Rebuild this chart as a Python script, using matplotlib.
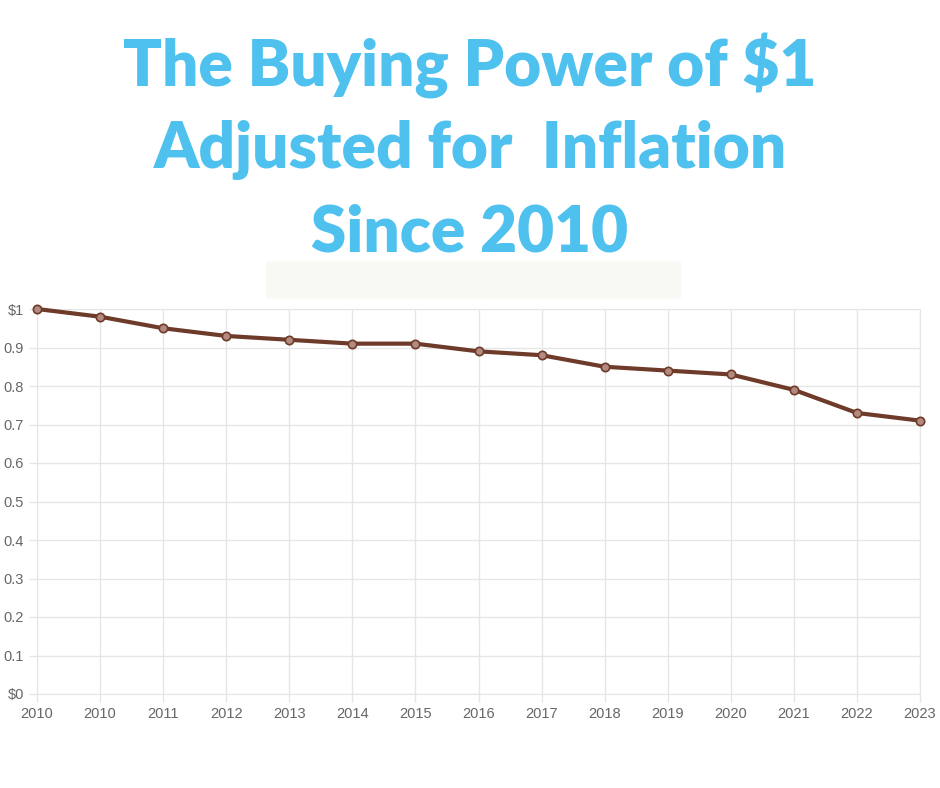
import matplotlib
matplotlib.use("Agg")
import matplotlib.pyplot as plt
from matplotlib.patches import Rectangle

years = ["2010", "2010", "2011", "2012", "2013", "2014", "2015", "2016",
         "2017", "2018", "2019", "2020", "2021", "2022", "2023"]
values = [1.0, 0.98, 0.95, 0.93, 0.92, 0.91, 0.91, 0.89, 0.88, 0.85,
          0.84, 0.83, 0.79, 0.73, 0.71]
yticks = [0, 0.1, 0.2, 0.3, 0.4, 0.5, 0.6, 0.7, 0.8, 0.9, 1.0]
ytick_labels = ["$0", "0.1", "0.2", "0.3", "0.4", "0.5", "0.6", "0.7", "0.8", "0.9", "$1"]

W, H = 940, 788
fig = plt.figure(figsize=(W / 100, H / 100), dpi=100)
fig.patch.set_facecolor("white")

title_color = "#4fc1ef"
for text, yc in [("The Buying Power of $1", 65), ("Adjusted for  Inflation", 150),
                 ("Since 2010", 233)]:
    fig.text(0.5, 1 - yc / H, text, ha="center", va="center", fontsize=46,
             fontweight="heavy", family="Lato", color=title_color)

fig.patches.append(Rectangle((266 / W, 1 - 297 / H), 414 / W, 35 / H,
                             transform=fig.transFigure, color="#f8f8f4", zorder=0))

ax = fig.add_axes([37 / W, 1 - 694 / H, 883 / W, 385 / H])
x = list(range(len(years)))
ax.plot(x, values, color="#6e3b2a", linewidth=3, marker="o", markersize=6,
        markerfacecolor="#b48a80", markeredgecolor="#6e3b2a", markeredgewidth=1.2,
        clip_on=False, zorder=5)
ax.set_xlim(0, len(years) - 1)
ax.set_ylim(0, 1)
ax.set_xticks(x)
ax.set_xticklabels(years, family="Liberation Sans")
ax.set_yticks(yticks)
ax.set_yticklabels(ytick_labels, family="Liberation Sans")
ax.grid(True, color="#e6e6e6", linewidth=1)
ax.set_axisbelow(True)
for s in ax.spines.values():
    s.set_color("#e6e6e6")
ax.tick_params(colors="#666666", labelsize=10.5, length=6, width=1)
ax.tick_params(axis="both", color="#e6e6e6")

fig.savefig("out.png", dpi=100)
